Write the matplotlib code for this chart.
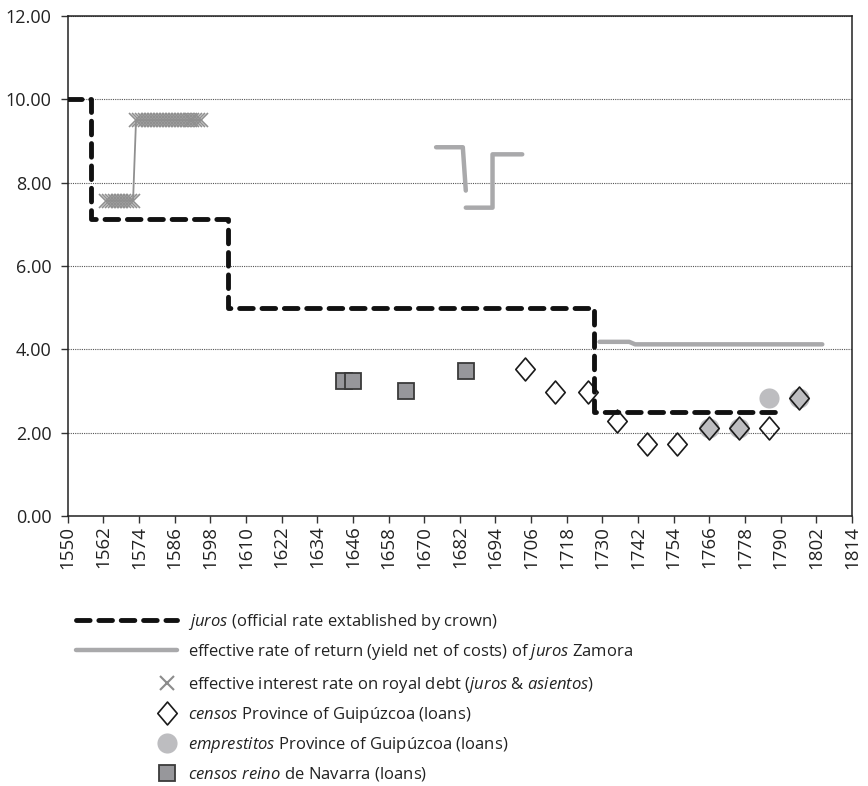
import numpy as np
import matplotlib
matplotlib.use("Agg")
import matplotlib.pyplot as plt
from matplotlib.lines import Line2D
from matplotlib.path import Path

plt.rcParams['font.family'] = ['Open Sans', 'DejaVu Sans']
plt.rcParams['mathtext.fontset'] = 'custom'
plt.rcParams['mathtext.rm'] = 'Open Sans'
plt.rcParams['mathtext.it'] = 'Open Sans:italic'

# --------------------
# Data
# --------------------
# juros: official rate, change points (step line)
juros_years = [1550, 1558, 1604, 1727, 1790]
juros_rate = [10.0, 7.14, 5.0, 2.5, 2.5]

# effective rate of return of juros Zamora (gaps = no data)
zamora_years = [1674, 1683, 1684, np.nan, 1684, 1693, 1693, 1703,
                np.nan, 1729, 1739, 1741, 1804]
zamora_rate = [8.85, 8.85, 7.81, np.nan, 7.40, 7.40, 8.68, 8.68,
               np.nan, 4.18, 4.18, 4.12, 4.12]

# effective interest rate on royal debt
royal_years = [1563, 1564, 1565, 1566, 1567, 1568, 1569, 1570, 1571, 1572,
               1573, 1574, 1575, 1576, 1577, 1578, 1579, 1580, 1581, 1582,
               1583, 1584, 1585, 1586, 1587, 1588, 1589, 1590, 1591, 1592,
               1593, 1594, 1595]
royal_rate = [7.57, 7.57, 7.57, 7.57, 7.57, 7.57, 7.57, 7.57, 7.57, 7.57,
              9.50, 9.50, 9.50, 9.50, 9.50, 9.50, 9.50, 9.50, 9.50, 9.50,
              9.50, 9.50, 9.50, 9.50, 9.50, 9.50, 9.50, 9.50, 9.50, 9.50,
              9.50, 9.50, 9.50]

# censos Province of Guipuzcoa
censos_years = [1704, 1714, 1725, 1735, 1745, 1755, 1766, 1776, 1786, 1796]
censos_rate = [3.52, 2.97, 2.97, 2.28, 1.74, 1.74, 2.12, 2.12, 2.12, 2.84]

# emprestitos Province of Guipuzcoa
emprest_years = [1766, 1776, 1786, 1796]
emprest_rate = [2.12, 2.12, 2.84, 2.84]

# censos reino de Navarra
navarra_years = [1643, 1646, 1664, 1684]
navarra_rate = [3.24, 3.24, 3.01, 3.49]

x_ticks = list(range(1550, 1815, 12))
y_ticks = [0, 2, 4, 6, 8, 10, 12]

labels_lines = [
    r"$\it{juros}$ (official rate extablished by crown)",
    r"effective rate of return (yield net of costs) of $\it{juros}$ Zamora",
]
labels_markers = [
    r"effective interest rate on royal debt ($\it{juros}$ & $\it{asientos}$)",
    r"$\it{censos}$ Province of Guipúzcoa (loans)",
    r"$\it{emprestitos}$ Province of Guipúzcoa (loans)",
    r"$\it{censos\ reino}$ de Navarra (loans)",
]

# --------------------
# Styles
# --------------------
diamond = Path([(0, 1), (0.85, 0), (0, -1), (-0.85, 0), (0, 1)],
               [Path.MOVETO, Path.LINETO, Path.LINETO, Path.LINETO, Path.CLOSEPOLY])

W, H = 868, 786
fig = plt.figure(figsize=(W / 100, H / 100), dpi=100)
ax = fig.add_axes([67.7 / W, 1 - 516 / H, (852 - 67.7) / W, (516 - 16) / H])

ax.plot(royal_years, royal_rate, color='#909090', lw=1.3, marker='x',
        ms=10, mew=1.2, zorder=3)
ax.plot(zamora_years, zamora_rate, color='#a9a9ab', lw=3.2,
        solid_capstyle='round', solid_joinstyle='round', zorder=3)
ax.plot(navarra_years, navarra_rate, ls='none', marker='s', ms=11,
        mfc='#97979b', mec='#3a3a3a', mew=1.3, zorder=4)
ax.plot(emprest_years, emprest_rate, ls='none', marker='o', ms=14.5,
        mfc='#bdbdc0', mec='none', zorder=4)
ax.plot(censos_years, censos_rate, ls='none', marker=diamond, ms=16.5,
        mfc='none', mec='#1a1a1a', mew=1.2, zorder=5)
ax.plot(juros_years, juros_rate, drawstyle='steps-post', color='#111111',
        lw=3.5, dashes=(2.8, 1.8), dash_capstyle='round', zorder=6)

ax.set_xlim(1550, 1814)
ax.set_ylim(0, 12)
ax.set_xticks(x_ticks)
ax.set_xticklabels([str(t) for t in x_ticks], rotation=90)
ax.set_yticks(y_ticks)
ax.set_yticklabels([f"{t:.2f}" for t in y_ticks])
ax.tick_params(axis='both', direction='out', length=5, width=1,
               color='#333333', labelsize=13, labelcolor='#222222')
ax.tick_params(axis='x', labelsize=13.5, pad=2)
ax.tick_params(axis='y', pad=6.5)
ax.yaxis.grid(True, linestyle=(0, (1, 1)), color='#555555', lw=0.8)
ax.set_axisbelow(True)
for s in ax.spines.values():
    s.set_linewidth(1.1)
    s.set_color('#222222')

# --------------------
# Legend (two blocks so marker rows line up with line rows)
# --------------------
h_juros = Line2D([], [], color='#111111', lw=3.5, dashes=(2.8, 1.8),
                 dash_capstyle='round')
h_zam = Line2D([], [], color='#a9a9ab', lw=3.2, solid_capstyle='round')
h_royal = Line2D([], [], ls='none', marker='x', color='#8c8c8c', ms=10, mew=1.5)
h_censos = Line2D([], [], ls='none', marker=diamond, ms=16.5, mfc='white',
                  mec='#1a1a1a', mew=1.2)
h_emp = Line2D([], [], ls='none', marker='o', ms=14.5, mfc='#bdbdc0', mec='none')
h_nav = Line2D([], [], ls='none', marker='s', ms=11, mfc='#97979b',
               mec='#3a3a3a', mew=1.3)

common = dict(loc='upper left', frameon=False, borderpad=0, borderaxespad=0,
              fontsize=12, labelspacing=0.6, handletextpad=0.66,
              labelcolor='#222222')
fig.legend([h_juros, h_zam], labels_lines,
           bbox_to_anchor=(76 / W, 1 - 612 / H), handlelength=6.06, **common)
fig.legend([h_royal, h_censos, h_emp, h_nav], labels_markers,
           bbox_to_anchor=(157 / W, 1 - 675 / H), handlelength=1.2, **common)

fig.savefig("out.png", dpi=100)
